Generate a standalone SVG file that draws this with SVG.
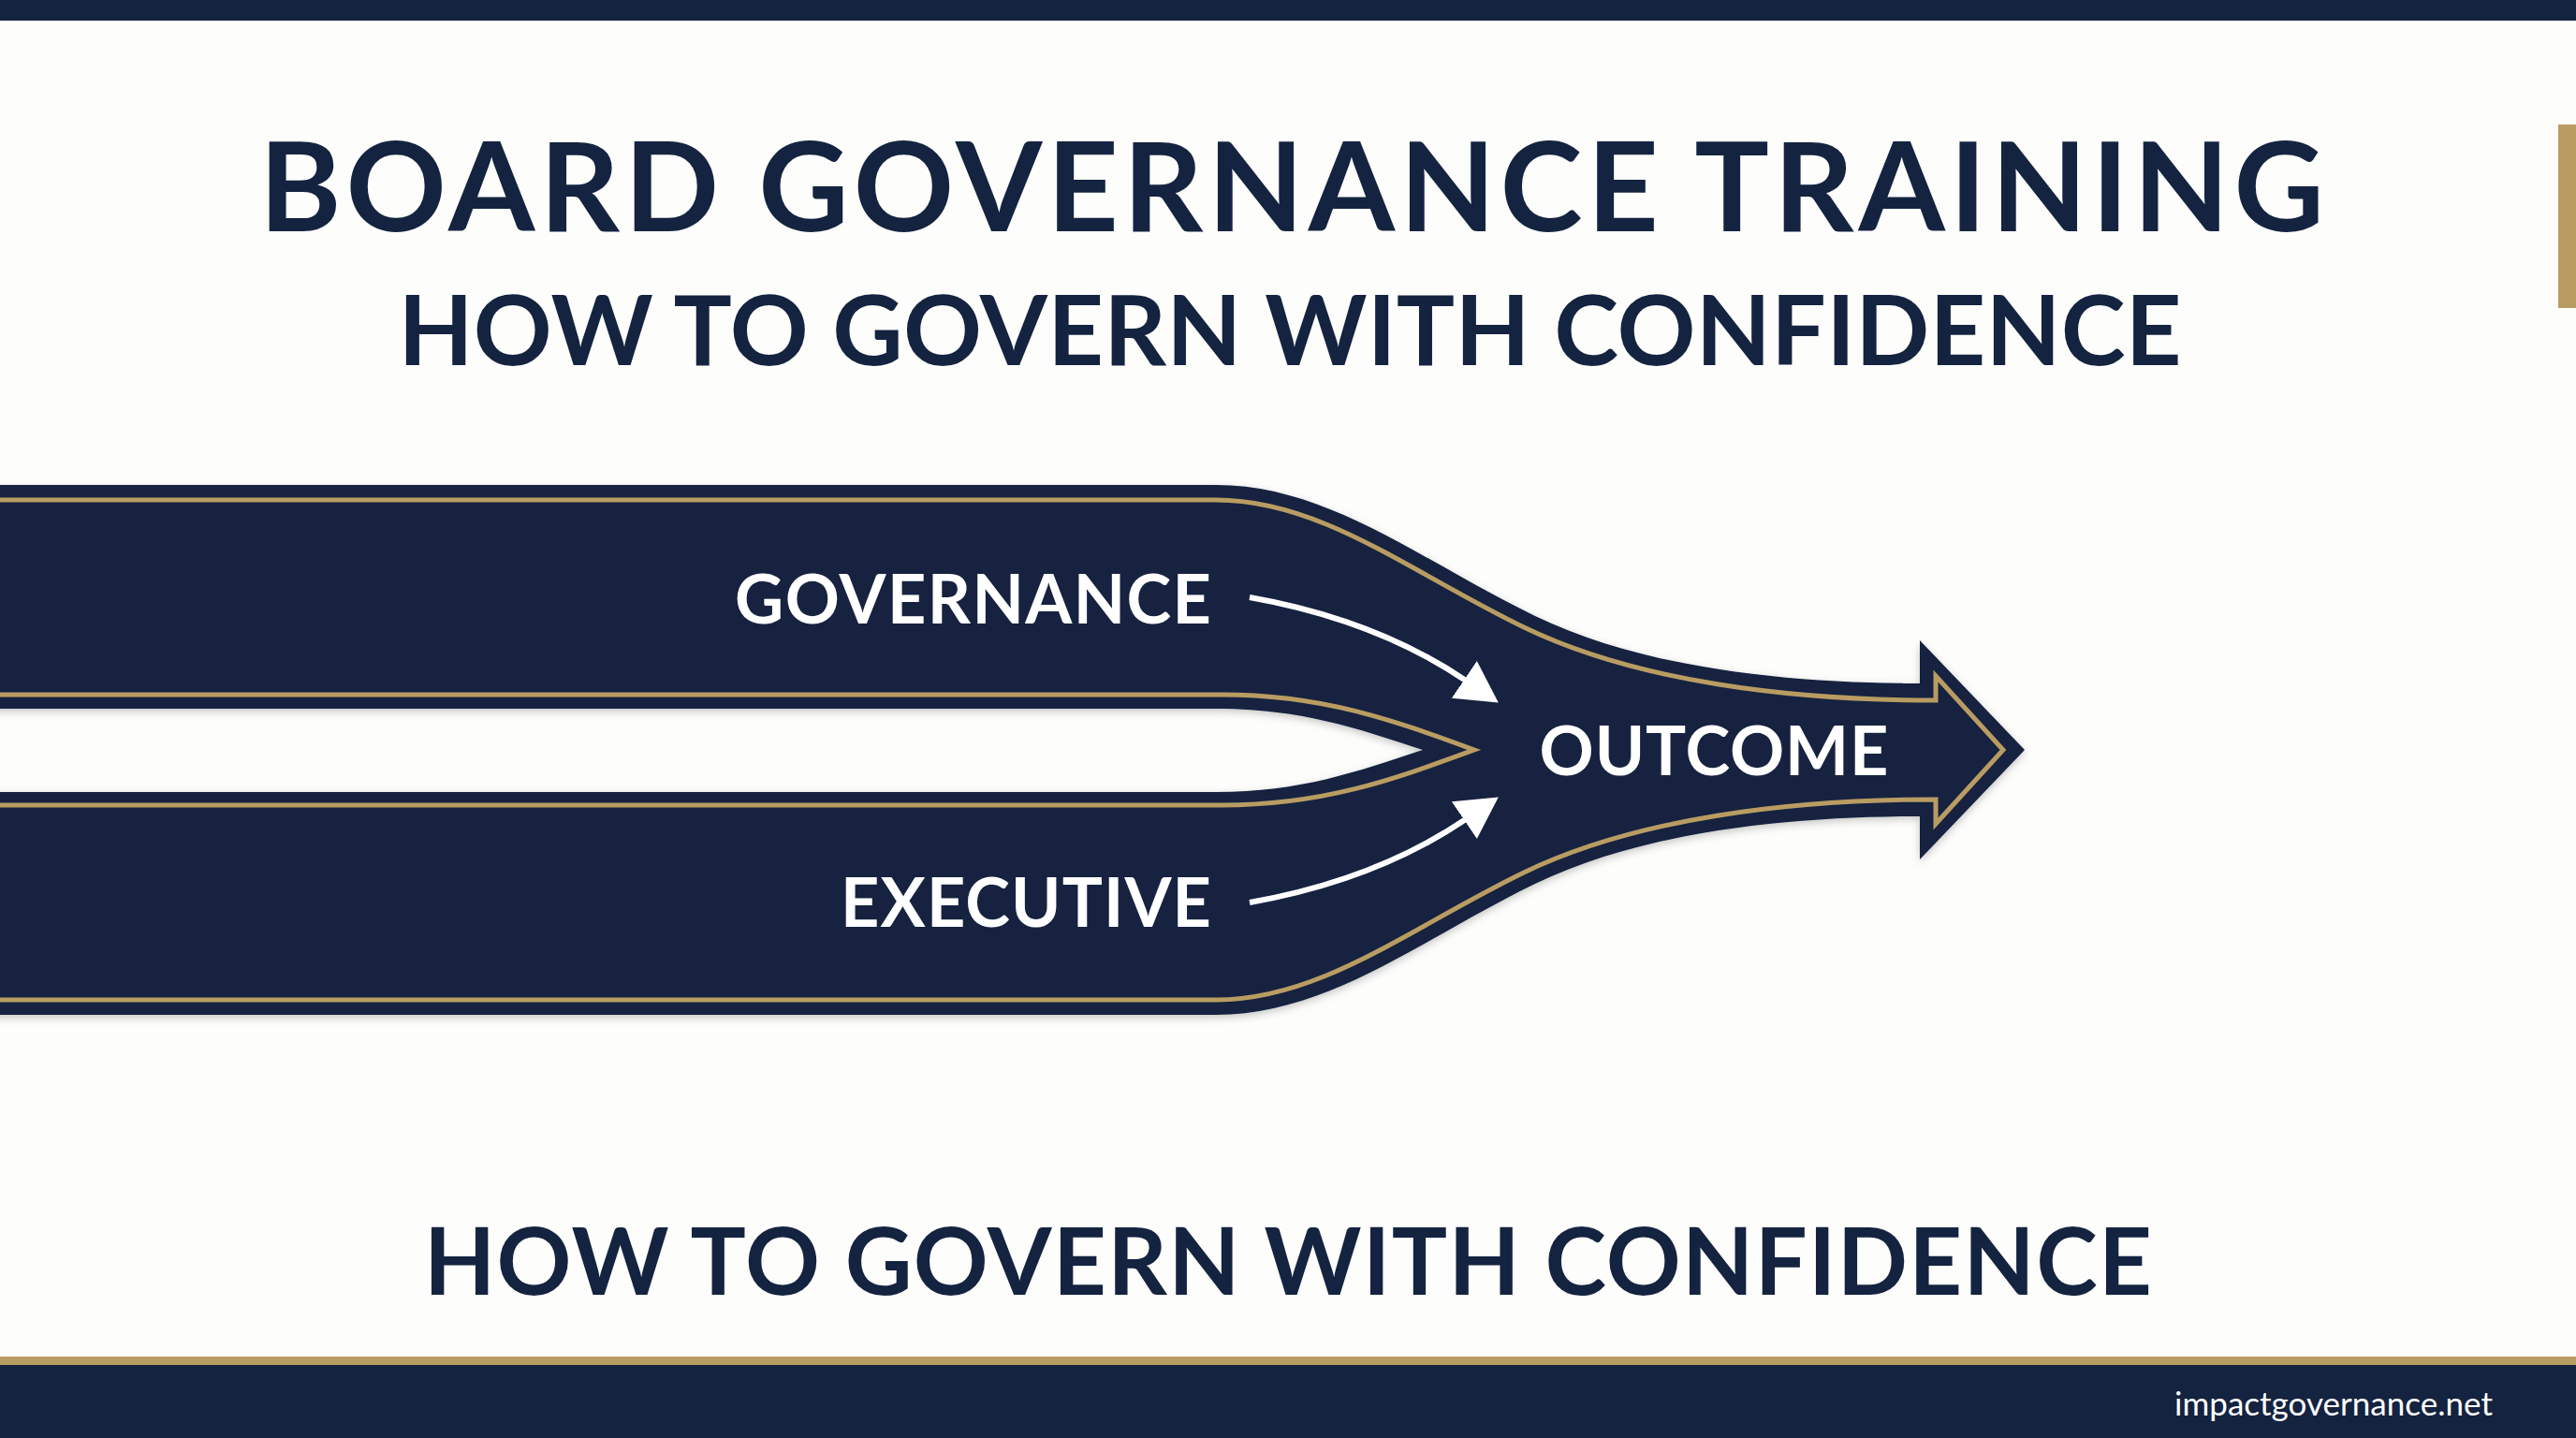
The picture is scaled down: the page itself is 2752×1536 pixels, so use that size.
<svg xmlns="http://www.w3.org/2000/svg" width="2752" height="1536" viewBox="0 0 2752 1536">
  <style>
    .navy { fill: #14233f; }
    .gold { fill: #b99c62; }
    .goldline { fill: none; stroke: #b99c62; stroke-width: 5; stroke-linejoin: miter; }
    .head { font-family: Lato, "Open Sans", "Liberation Sans", sans-serif; font-weight: 700; fill: #14233f; }
    .lbl { font-family: Lato, "Open Sans", "Liberation Sans", sans-serif; font-weight: 700; fill: #ffffff; font-size: 72px; }
    .conn { fill: none; stroke: #ffffff; stroke-width: 6; stroke-linecap: butt; }
  </style>
  <defs>
    <marker id="ah" viewBox="0 0 44 48" markerWidth="44" markerHeight="48" refX="2" refY="24" orient="auto" markerUnits="userSpaceOnUse">
      <path d="M0 0 L44 24 L0 48 Z" fill="#ffffff"/>
    </marker>
    <filter id="sh" x="-5%" y="-10%" width="110%" height="120%">
      <feDropShadow dx="0" dy="3" stdDeviation="4" flood-color="#000000" flood-opacity="0.22"/>
    </filter>
  </defs>

  <rect x="0" y="0" width="2752" height="1536" fill="#fdfdfc"/>

  <!-- frame -->
  <g id="frame">
    <rect class="navy" x="0" y="0" width="2752" height="22"/>
    <rect class="gold" x="2733" y="133" width="19" height="196"/>
    <rect class="gold" x="0" y="1449" width="2752" height="10"/>
    <rect class="navy" x="0" y="1458" width="2752" height="78"/>
  </g>

  <g id="title">
    <text class="head" x="1380" y="247" font-size="133" text-anchor="middle" textLength="2206" lengthAdjust="spacing">BOARD GOVERNANCE TRAINING</text>
  </g>
  <g id="subtitle">
    <text class="head" x="1378" y="390" font-size="104" text-anchor="middle" textLength="1905" lengthAdjust="spacing">HOW TO GOVERN WITH CONFIDENCE</text>
  </g>

  <!-- merged flow shape -->
  <g id="flow-shape">
    <path class="navy" filter="url(#sh)" d="M -10 518 H 1299 C 1420 518 1520 600 1640 658 C 1760 716 1920 730 2051 730 V 684 L 2163 801 L 2051 918 V 872 C 1920 872 1760 886 1640 944 C 1520 1002 1420 1084 1299 1084 H -10 V 846 H 1299 C 1390 846 1450 824 1520 801 C 1450 778 1390 757 1299 757 H -10 Z"/>
    <path class="goldline" d="M -10 534 H 1299 C 1412 534 1508 612 1628 670 C 1748 728 1912 748 2068 748 V 722 L 2140 801 L 2068 880 V 854 C 1912 854 1748 874 1628 932 C 1508 990 1412 1068 1299 1068 H -10"/>
    <path class="goldline" d="M -10 742 H 1305 C 1415 742 1490 770 1575 801 C 1490 832 1415 860 1305 860 H -10"/>
  </g>

  <g id="governance">
    <text class="lbl" x="1294" y="666" text-anchor="end" textLength="509" lengthAdjust="spacing">GOVERNANCE</text>
  </g>
  <g id="executive">
    <text class="lbl" x="1294" y="990" text-anchor="end" textLength="396" lengthAdjust="spacing">EXECUTIVE</text>
  </g>
  <g id="outcome">
    <text class="lbl" x="1831" y="828" text-anchor="middle" textLength="373" lengthAdjust="spacing">OUTCOME</text>
  </g>

  <g id="connectors">
    <path class="conn" d="M 1335 638 Q 1470 662 1566 727" marker-end="url(#ah)"/>
    <path class="conn" d="M 1335 964 Q 1470 940 1566 875" marker-end="url(#ah)"/>
  </g>

  <g id="tagline">
    <text class="head" x="1376" y="1383" font-size="99" text-anchor="middle" textLength="1846" lengthAdjust="spacing">HOW TO GOVERN WITH CONFIDENCE</text>
  </g>

  <g id="footer">
    <text x="2663" y="1512" font-family="Lato, 'Open Sans', 'Liberation Sans', sans-serif" font-size="35" fill="#ffffff" text-anchor="end" textLength="340" lengthAdjust="spacing">impactgovernance.net</text>
  </g>
</svg>
